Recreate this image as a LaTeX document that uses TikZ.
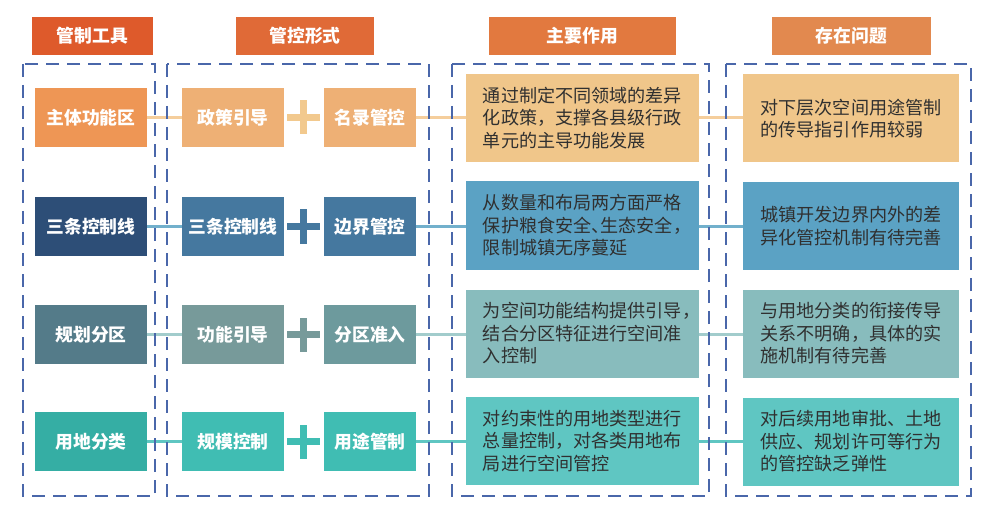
\documentclass[tikz,border=0pt]{standalone}
\usepackage{fontspec}
\setmainfont{Noto Sans CJK SC}
\usetikzlibrary{positioning}
\definecolor{hA}{HTML}{DE5A2B}
\definecolor{hB}{HTML}{E06A37}
\definecolor{hC}{HTML}{E2793F}
\definecolor{hD}{HTML}{E2894F}
\definecolor{dashc}{HTML}{4A67AA}
\definecolor{txt}{HTML}{303030}
% row 1
\definecolor{aTool}{HTML}{EE9655}
\definecolor{aForm}{HTML}{EEB075}
\definecolor{aPlus}{HTML}{F2C98E}
\definecolor{aPara}{HTML}{F0C68A}
\definecolor{aLine}{HTML}{F5CE9C}
% row 2
\definecolor{bTool}{HTML}{2D4E77}
\definecolor{bForm}{HTML}{45789F}
\definecolor{bPlus}{HTML}{45789F}
\definecolor{bPara}{HTML}{5BA2C4}
\definecolor{bLine}{HTML}{72B0CC}
% row 3
\definecolor{cTool}{HTML}{547B89}
\definecolor{cForm}{HTML}{779A9A}
\definecolor{cFormB}{HTML}{6D9A9D}
\definecolor{cPlus}{HTML}{779A9A}
\definecolor{cPara}{HTML}{88BCBD}
\definecolor{cLine}{HTML}{A2CCCC}
% row 4
\definecolor{dTool}{HTML}{35AEA4}
\definecolor{dForm}{HTML}{40BDB3}
\definecolor{dPlus}{HTML}{40BDB3}
\definecolor{dPara}{HTML}{5FC6C2}
\definecolor{dLine}{HTML}{5FC6C2}
\tikzset{
  header/.style={fill=#1, text=white, inner sep=0pt, outer sep=0pt,
    minimum height=38pt, font=\fontsize{17.8}{20}\selectfont\bfseries},
  toolbox/.style={fill=#1, text=white, inner sep=0pt, outer sep=0pt,
    minimum width=112pt, minimum height=59pt, font=\fontsize{17.8}{20}\selectfont\bfseries},
  formbox/.style={fill=#1, text=white, inner sep=0pt, outer sep=0pt,
    minimum height=59pt, font=\fontsize{17.8}{20}\selectfont\bfseries},
  parabox/.style={fill=#1, text=txt, inner xsep=16.95pt, inner ysep=0pt, outer sep=0pt,
    minimum width=233pt, minimum height=88pt, text width=199.1pt, align=left,
    font=\fontsize{18.1}{22.5}\selectfont},
  probbox/.style={fill=#1, text=txt, inner xsep=17.5pt, inner ysep=0pt, outer sep=0pt,
    minimum width=216pt, minimum height=88pt, text width=181pt, align=left,
    font=\fontsize{18.1}{22.5}\selectfont},
  groupbox/.style={draw=dashc, line width=1.4pt, dash pattern=on 13pt off 8pt},
  conn/.style={draw=#1, line width=2.2pt},
  pics/plusmark/.style={code={
    \fill[#1] (-16.5,-3.6) rectangle (16.5,3.6);
    \fill[#1] (-3.6,-17) rectangle (3.6,17);
  }}
}
\begin{document}
\begin{tikzpicture}[x=1pt,y=-1pt]
\useasboundingbox (0,0) rectangle (986,508);
\fill[white] (0,0) rectangle (986,508);

% headers
\node[header=hA, minimum width=121pt] (h1) at (92.5,36) {管制工具};
\node[header=hB, minimum width=138pt] (h2) at (305,36) {管控形式};
\node[header=hC, minimum width=187pt] (h3) at (582.5,36) {主要作用};
\node[header=hD, minimum width=159pt] (h4) at (851.5,36) {存在问题};

% row 1
\node[toolbox=aTool] (t1) at (91,117.5) {主体功能区};
\node[formbox=aForm, minimum width=102pt] (f1a) at (233,117.5) {政策引导};
\node[formbox=aForm, minimum width=92pt] (f1b) at (370,117.5) {名录管控};
\node[parabox=aPara] (p1) at (582.5,118) {通过制定不同领域的差异\\化政策，支撑各县级行政\\单元的主导功能发展};
\node[probbox=aPara] (q1) at (851,118.5) {对下层次空间用途管制\\的传导指引作用较弱};
\pic at (303.5,117.5) {plusmark=aPlus};

% row 2
\node[toolbox=bTool] (t2) at (91,226.5) {三条控制线};
\node[formbox=bForm, minimum width=102pt] (f2a) at (233,226.5) {三条控制线};
\node[formbox=bForm, minimum width=92pt] (f2b) at (370,226.5) {边界管控};
\node[parabox=bPara] (p2) at (582.5,225.5) {从数量和布局两方面严格\\保护粮食安全{、}\kern-9.05pt 生态安全，\\限制城镇无序蔓延};
\node[probbox=bPara] (q2) at (851,226) {城镇开发边界内外的差\\异化管控机制有待完善};
\pic at (303.5,226.5) {plusmark=bPlus};

% row 3
\node[toolbox=cTool] (t3) at (91,334.5) {规划分区};
\node[formbox=cForm, minimum width=102pt] (f3a) at (233,334.5) {功能引导};
\node[formbox=cFormB, minimum width=92pt] (f3b) at (370,334.5) {分区准入};
\node[parabox=cPara] (p3) at (582.5,333.5) {为空间功能结构提供引导，\\结合分区特征进行空间准\\入控制};
\node[probbox=cPara] (q3) at (851,333.5) {与用地分类的衔接传导\\关系不明确，具体的实\\施机制有待完善};
\pic at (303.5,334.5) {plusmark=cPlus};

% row 4
\node[toolbox=dTool] (t4) at (91,441.5) {用地分类};
\node[formbox=dForm, minimum width=102pt] (f4a) at (233,441.5) {规模控制};
\node[formbox=dForm, minimum width=92pt] (f4b) at (370,441.5) {用途管制};
\node[parabox=dPara] (p4) at (582.5,441) {对约束性的用地类型进行\\总量控制，对各类用地布\\局进行空间管控};
\node[probbox=dPara] (q4) at (851,441.5) {对后续用地审批、土地\\供应、规划许可等行为\\的管控缺乏弹性};
\pic at (303.5,441.5) {plusmark=dPlus};

% connectors
\foreach \r/\c in {1/aLine,2/bLine,3/cLine,4/dLine}{
  \draw[conn=\c] (t\r.east) -- (f\r a.west);
  \draw[conn=\c] (f\r b.east) -- (f\r b.east -| p\r.west);
  \draw[conn=\c] (p\r.east |- f\r b.east) -- (q\r.west |- f\r b.east);
}

% dashed group boxes
\draw[groupbox] (23,64) rectangle (155,496);
\draw[groupbox] (167,64) rectangle (429,496);
\draw[groupbox] (452,64) rectangle (709,496);
\draw[groupbox] (726,64) rectangle (971,496);
\end{tikzpicture}
\end{document}
